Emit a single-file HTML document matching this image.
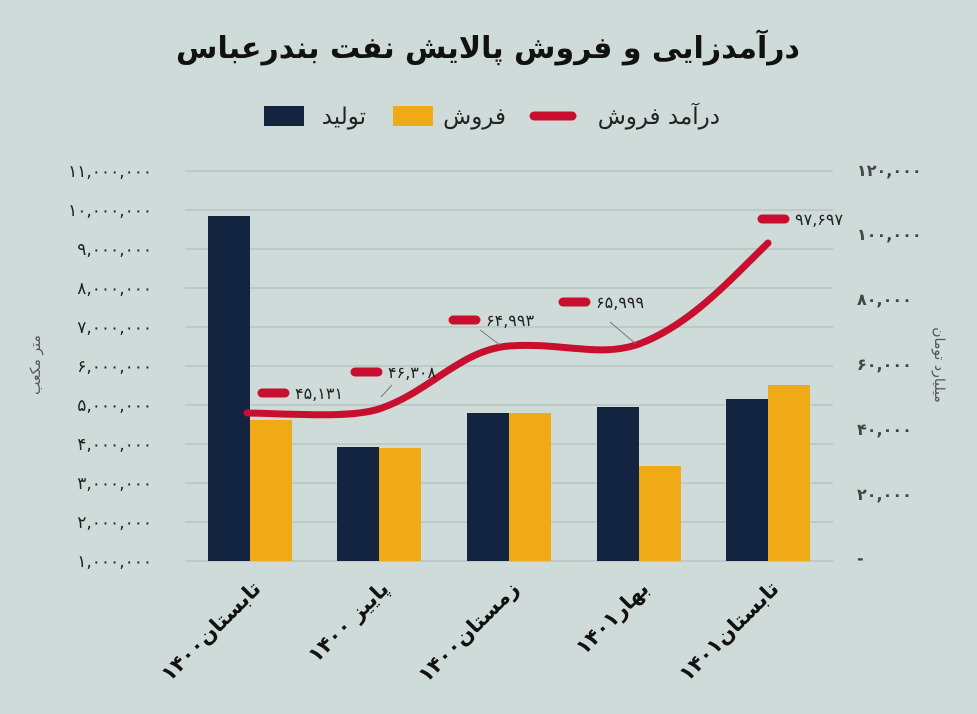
<!DOCTYPE html>
<html><head><meta charset="utf-8"><style>
body{margin:0;width:977px;height:709px;background:#cfdbd9;font-family:"Liberation Sans","Noto Sans CJK SC",sans-serif;overflow:hidden}
</style></head><body>
<svg width="977" height="709" xmlns="http://www.w3.org/2000/svg" font-family="DejaVu Sans, Liberation Sans, sans-serif">
<rect width="977" height="709" fill="#cfdbd9"/>
<text x="488" y="58" text-anchor="middle" font-size="30" font-weight="bold" fill="#111" direction="rtl">درآمدزایی و فروش پالایش نفت بندرعباس</text>
<g font-size="23" fill="#222" direction="rtl">
<rect x="264" y="106" width="40" height="20" fill="#12243f"/><text x="366" y="124" text-anchor="start">تولید</text>
<rect x="393" y="106" width="40" height="20" fill="#efaa15"/><text x="506" y="124" text-anchor="start">فروش</text>
<text x="720" y="124" text-anchor="start">درآمد فروش</text>
</g>
<line x1="534" y1="116" x2="572" y2="116" stroke="#c8102e" stroke-width="9" stroke-linecap="round"/>
<g stroke="#b9c4c2" stroke-width="1.5">
<line x1="185" y1="171" x2="833" y2="171"/><line x1="185" y1="210" x2="833" y2="210"/><line x1="185" y1="249" x2="833" y2="249"/><line x1="185" y1="288" x2="833" y2="288"/><line x1="185" y1="327" x2="833" y2="327"/><line x1="185" y1="366" x2="833" y2="366"/><line x1="185" y1="405" x2="833" y2="405"/><line x1="185" y1="444" x2="833" y2="444"/><line x1="185" y1="483" x2="833" y2="483"/><line x1="185" y1="522" x2="833" y2="522"/><line x1="185" y1="561" x2="833" y2="561"/>
</g>
<g font-size="17" fill="#222" text-anchor="end">
<text x="152" y="177">۱۱,۰۰۰,۰۰۰</text><text x="152" y="216">۱۰,۰۰۰,۰۰۰</text><text x="152" y="255">۹,۰۰۰,۰۰۰</text><text x="152" y="294">۸,۰۰۰,۰۰۰</text><text x="152" y="333">۷,۰۰۰,۰۰۰</text><text x="152" y="372">۶,۰۰۰,۰۰۰</text><text x="152" y="411">۵,۰۰۰,۰۰۰</text><text x="152" y="450">۴,۰۰۰,۰۰۰</text><text x="152" y="489">۳,۰۰۰,۰۰۰</text><text x="152" y="528">۲,۰۰۰,۰۰۰</text><text x="152" y="567">۱,۰۰۰,۰۰۰</text>
</g>
<g font-size="16" font-weight="bold" fill="#444" text-anchor="start">
<text x="857" y="176">۱۲۰,۰۰۰</text><text x="857" y="240">۱۰۰,۰۰۰</text><text x="857" y="305">۸۰,۰۰۰</text><text x="857" y="370">۶۰,۰۰۰</text><text x="857" y="435">۴۰,۰۰۰</text><text x="857" y="500">۲۰,۰۰۰</text><text x="857" y="564">-</text>
</g>
<text transform="translate(40,365) rotate(-90)" font-size="14" fill="#555" text-anchor="middle" direction="rtl">متر مکعب</text>
<text transform="translate(935,365) rotate(90)" font-size="14" fill="#555" text-anchor="middle" direction="rtl">میلیارد تومان</text>
<g fill="#12243f">
<rect x="208" y="216" width="42" height="345"/><rect x="337" y="447" width="42" height="114"/><rect x="467" y="413" width="42" height="148"/><rect x="597" y="407" width="42" height="154"/><rect x="726" y="399" width="42" height="162"/>
</g>
<g fill="#efaa15">
<rect x="250" y="420" width="42" height="141"/><rect x="379" y="448" width="42" height="113"/><rect x="509" y="413" width="42" height="148"/><rect x="639" y="466" width="42" height="95"/><rect x="768" y="385" width="42" height="176"/>
</g>
<path d="M247,413 C300,414 350,418 379,409 C430,392 460,350 509,346 C560,342 600,358 639,344 C690,325 730,280 768,243" fill="none" stroke="#c8102e" stroke-width="7" stroke-linecap="round"/>
<g stroke="#c8102e" stroke-width="9" stroke-linecap="round">
<line x1="262" y1="393" x2="285" y2="393"/><line x1="355" y1="372" x2="378" y2="372"/><line x1="453" y1="320" x2="476" y2="320"/><line x1="563" y1="302" x2="586" y2="302"/><line x1="762" y1="219" x2="785" y2="219"/>
</g>
<g stroke="#777" stroke-width="1"><line x1="381" y1="397" x2="392" y2="385"/><line x1="500" y1="345" x2="480" y2="330"/><line x1="636" y1="344" x2="610" y2="322"/></g>
<g font-size="16" fill="#222">
<text x="295" y="399">۴۵,۱۳۱</text><text x="388" y="378">۴۶,۳۰۸</text><text x="486" y="326">۶۴,۹۹۳</text><text x="596" y="308">۶۵,۹۹۹</text><text x="795" y="225">۹۷,۶۹۷</text>
</g>
<g font-size="21" font-weight="bold" fill="#111" text-anchor="start" direction="rtl">
<text transform="translate(262,590) rotate(-45)">تابستان۱۴۰۰</text>
<text transform="translate(390,590) rotate(-45)">پاییز ۱۴۰۰</text>
<text transform="translate(520,590) rotate(-45)">زمستان۱۴۰۰</text>
<text transform="translate(650,590) rotate(-45)">بهار۱۴۰۱</text>
<text transform="translate(780,590) rotate(-45)">تابستان۱۴۰۱</text>
</g>
</svg>
</body></html>
